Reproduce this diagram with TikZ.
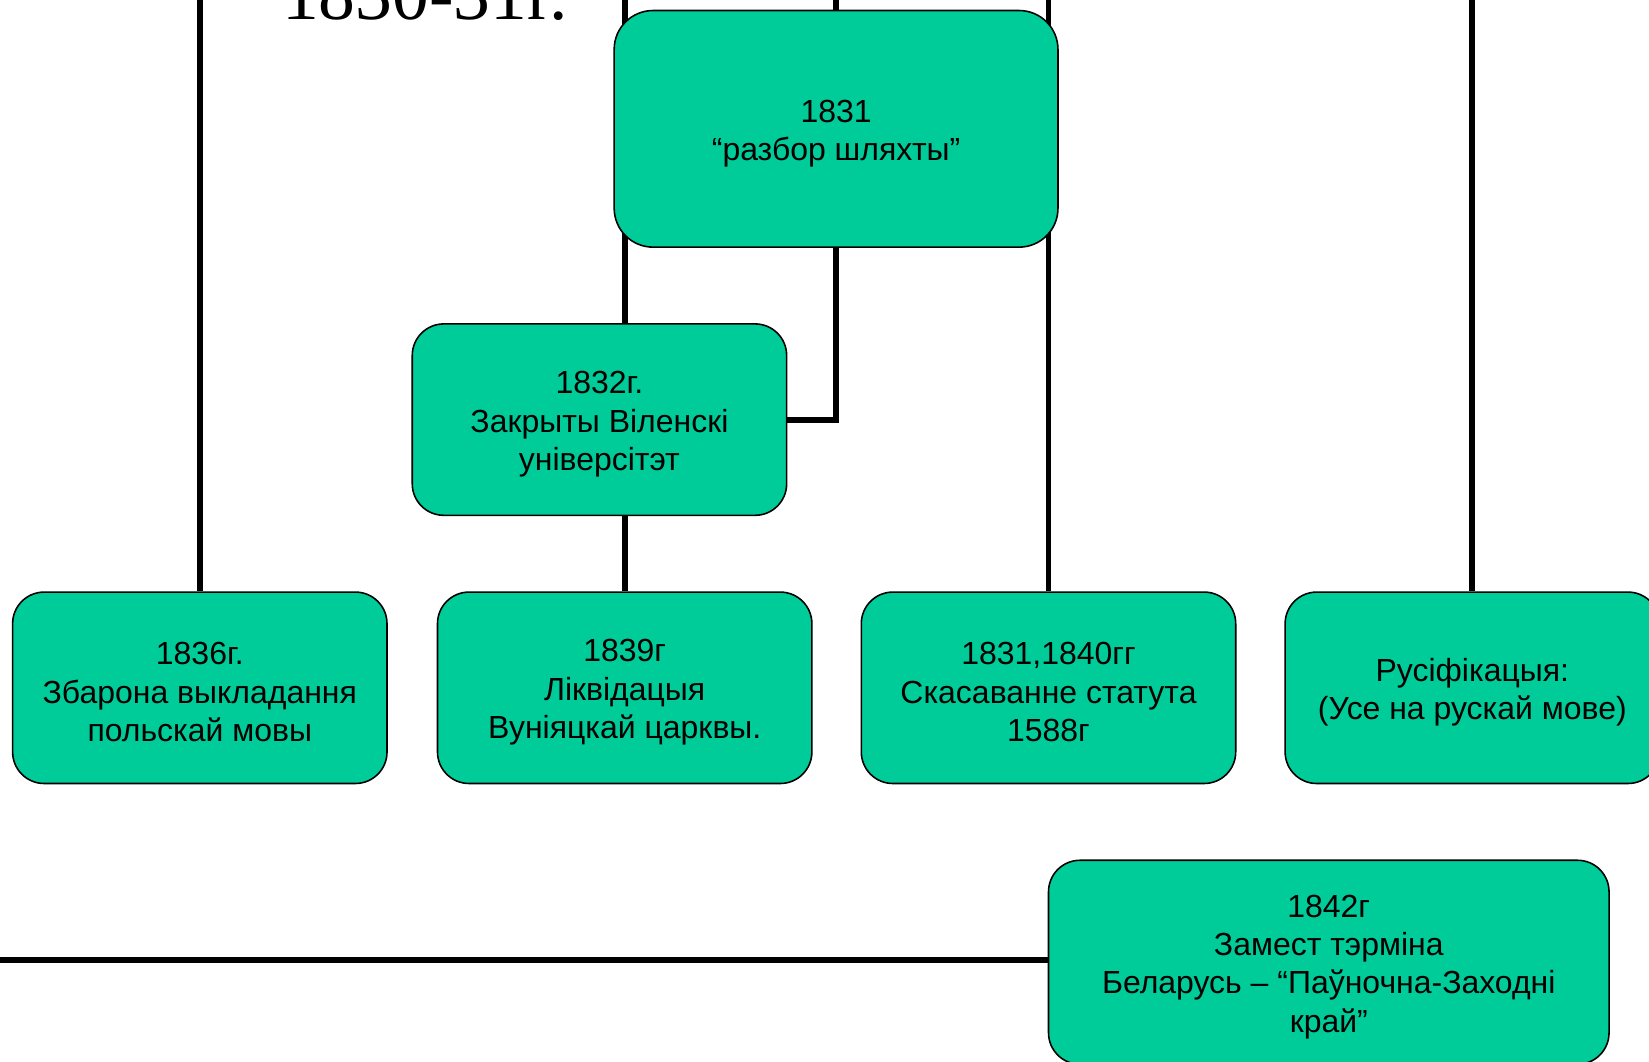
\documentclass[tikz,border=0pt]{standalone}
\usepackage{fontspec}
\setmainfont{Liberation Sans}
\newfontfamily\titlefont{Liberation Serif}
\usetikzlibrary{backgrounds}
\definecolor{boxgreen}{HTML}{00CC99}
% taller first line, so the text sits a little lower in its box
\newcommand{\lowtext}{\rule{0pt}{30pt}}
\begin{document}
\begin{tikzpicture}[x=1pt,y=-1pt,
  event/.style={draw, line width=1.5pt, fill=boxgreen, rounded corners=30pt,
    minimum width=356pt, minimum height=182pt, inner sep=0pt, align=center,
    font={\fontsize{30.4}{36.6}\selectfont}},
  link/.style={line width=5.5pt}]
\useasboundingbox (0,0) rectangle (1568,1009);
% title, cut off at the top
\node[anchor=base, inner sep=0pt, font={\titlefont\fontsize{70}{75}\selectfont}] (title) at (404,19) {1830-31г.};
% events
\node[event, minimum width=422pt, minimum height=225pt, rounded corners=37pt] (t1831) at (795,122.5) {\lowtext 1831\\“разбор шляхты”};
\node[event] (t1832) at (570,399) {\lowtext 1832г.\\Закрыты Віленскі\\універсітэт};
\node[event] (t1836) at (190,654) {\lowtext 1836г.\\Збарона выкладання\\польскай мовы};
\node[event] (t1839) at (594,654) {\lowtext 1839г\\Ліквідацыя\\Вуніяцкай царквы.};
\node[event] (t1840) at (997,654) {\lowtext 1831,1840гг\\Скасаванне статута\\1588г};
\node[event] (trus) at (1400,654) {\lowtext Русіфікацыя:\\(Усе на рускай мове)};
\node[event, minimum width=533pt, minimum height=194pt] (t1842) at (1263.5,915) {\lowtext 1842г\\Замест тэрміна\\Беларусь – “Паўночна-Заходні\\край”};
% free ends at the edges
\coordinate (top1836) at (190,-5);
\coordinate (top1839) at (594,-5);
\coordinate (top1831) at (795,-5);
\coordinate (top1840) at (997,-5);
\coordinate (toprus) at (1400,-5);
\coordinate (left1842) at (-5,913);
\begin{scope}[on background layer]
\draw[link] (top1836) -- (t1836.north);
\draw[link] (top1839) -- (top1839 |- t1832.north);
\draw[link] (top1839 |- t1832.south) -- (t1839.north);
\draw[link] (top1831) -- (t1831.north);
\draw[link] (t1831.south) |- (t1832.east);
\draw[link] (top1840) -- (t1840.north);
\draw[link] (toprus) -- (trus.north);
\draw[link] (left1842) -- (left1842 -| t1842.west);
\end{scope}
\end{tikzpicture}
\end{document}
